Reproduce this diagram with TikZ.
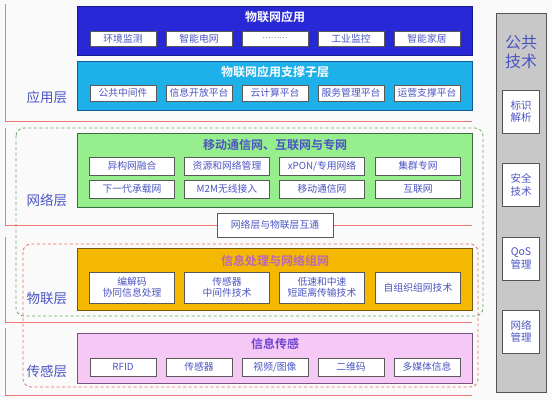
\documentclass[tikz,border=0pt]{standalone}
\usepackage{fontspec}
\newfontfamily\cjk{Noto Sans CJK SC}[BoldFont={Noto Sans CJK SC Bold}]

\definecolor{bgcol}{RGB}{250,250,250}
\definecolor{appblue}{RGB}{40,40,215}
\definecolor{appblueline}{RGB}{25,25,140}
\definecolor{supcyan}{RGB}{30,176,232}
\definecolor{supcyanline}{RGB}{20,90,150}
\definecolor{netgreen}{RGB}{150,238,140}
\definecolor{netgreenline}{RGB}{60,110,60}
\definecolor{iotorange}{RGB}{245,184,0}
\definecolor{iotorangeline}{RGB}{120,90,10}
\definecolor{senspink}{RGB}{246,200,246}
\definecolor{senspinkline}{RGB}{120,80,130}
\definecolor{commongray}{RGB}{200,200,200}
\definecolor{commongrayline}{RGB}{85,85,85}
\definecolor{labelblue}{RGB}{75,85,195}
\definecolor{bracketred}{RGB}{238,120,120}
\definecolor{dashgreen}{RGB}{110,165,110}
\definecolor{dashred}{RGB}{232,110,110}
\definecolor{mauve}{RGB}{185,105,185}

\tikzset{%
  % Specifications for style of nodes:
     layerbox/.style = {rectangle, anchor=north west, line width=1.3pt, minimum width=395pt, inner sep=0pt},
      itembox/.style = {rectangle, draw=black!65, fill=white, line width=1pt, inner sep=0pt, align=center,
                        text=labelblue, font=\cjk\fontsize{9.8}{11}\selectfont},
     titletext/.style = {font=\cjk\bfseries\fontsize{12}{13}\selectfont},
     layerlabel/.style = {text=labelblue, font=\cjk\fontsize{13.5}{15}\selectfont},
     sidebox/.style = {rectangle, draw=commongrayline, fill=white, line width=1pt, minimum width=37pt,
                       minimum height=43pt, inner sep=0pt, align=center, text=labelblue,
                       font=\cjk\fontsize{10.5}{12.5}\selectfont},
  % Specifications for style of lines:
     bracketline/.style = {bracketred, line width=0.8pt},
}

\begin{document}
\begin{tikzpicture}[x=1pt, y=-1pt]
    \useasboundingbox (0,0) rectangle (552,400);
    \fill[bgcol] (0,0) rectangle (552,400);

    % Draw dashed groups
    \draw[dashgreen, line width=0.8pt, dash pattern=on 3pt off 2.5pt, rounded corners=8pt] (16,128) rectangle (483,316);
    \draw[dashred, line width=0.8pt, dash pattern=on 3pt off 2.5pt, rounded corners=8pt] (23,244) rectangle (478,387);

    % Draw layer brackets
    \draw[bracketline] (5,4) -- (5,121) -- (472,121);
    \draw[bracketline] (5,128) -- (5,225) -- (472,225);
    \draw[bracketline] (5,237) -- (5,322) -- (472,322);
    \draw[bracketline] (5,328) -- (5,395) -- (472,395);

    % Draw layer labels
    \node (applabel)  [layerlabel] at (47,97)  {应用层};
    \node (netlabel)  [layerlabel] at (47,200) {网络层};
    \node (iotlabel)  [layerlabel] at (47,298) {物联层};
    \node (senslabel) [layerlabel] at (47,371) {传感层};

    % Draw application layer
    \node (app)  [layerbox, draw=appblueline, fill=appblue, minimum height=49pt] at (77,6) {};
    \node (apptitle) [titletext, text=white] at (275,17) {物联网应用};
    \node (env)   [itembox, minimum width=66pt, minimum height=15pt] at (123,38.5) {环境监测};
    \node (grid)  [itembox, minimum width=66pt, minimum height=15pt] at (199,38.5) {智能电网};
    \node (more)  [itembox, minimum width=66pt, minimum height=15pt] at (275,38.5) {\textcolor{black!50}{\footnotesize\dots\dots\dots}};
    \node (ind)   [itembox, minimum width=66pt, minimum height=15pt] at (351,38.5) {工业监控};
    \node (home)  [itembox, minimum width=66pt, minimum height=15pt] at (427,38.5) {智能家居};

    \node (sup)  [layerbox, draw=supcyanline, fill=supcyan, minimum height=49pt] at (77,61) {};
    \node (suptitle) [titletext, text=white] at (275,72) {物联网应用支撑子层};
    \node (mid)   [itembox, minimum width=66pt, minimum height=16pt] at (123,93) {公共中间件};
    \node (open)  [itembox, minimum width=66pt, minimum height=16pt] at (199,93) {信息开放平台};
    \node (cloud) [itembox, minimum width=66pt, minimum height=16pt] at (275,93) {云计算平台};
    \node (serv)  [itembox, minimum width=66pt, minimum height=16pt] at (351,93) {服务管理平台};
    \node (ops)   [itembox, minimum width=66pt, minimum height=16pt] at (427,93) {运营支撑平台};

    % Draw network layer
    \node (net)  [layerbox, draw=netgreenline, fill=netgreen, minimum height=74pt] at (77,133) {};
    \node (nettitle) [titletext, text=labelblue] at (275,145) {移动通信网、互联网与专网};
    \node (hetero) [itembox, minimum width=85pt, minimum height=18pt] at (132,166) {异构网融合};
    \node (res)    [itembox, minimum width=85pt, minimum height=18pt] at (227,166) {资源和网络管理};
    \node (xpon)   [itembox, minimum width=85pt, minimum height=18pt] at (322,166) {xPON/专用网络};
    \node (trunk)  [itembox, minimum width=85pt, minimum height=18pt] at (418,166) {集群专网};
    \node (ngn)    [itembox, minimum width=85pt, minimum height=18pt] at (132,189) {下一代承载网};
    \node (mtom)   [itembox, minimum width=85pt, minimum height=18pt] at (227,189) {M2M无线接入};
    \node (mobile) [itembox, minimum width=85pt, minimum height=18pt] at (322,189) {移动通信网};
    \node (inet)   [itembox, minimum width=85pt, minimum height=18pt] at (418,189) {互联网};

    \node (link)   [itembox, minimum width=116pt, minimum height=24pt] at (275,225) {网络层与物联层互通};

    % Draw IoT layer
    \node (iot)  [layerbox, draw=iotorangeline, fill=iotorange, minimum height=62pt] at (77,248) {};
    \node (iottitle) [titletext, text=mauve] at (275,261) {信息处理与网络组网};
    \node (codec)  [itembox, minimum width=85pt, minimum height=31pt] at (132,287.5) {编解码\\协同信息处理};
    \node (smid)   [itembox, minimum width=85pt, minimum height=31pt] at (227,287.5) {传感器\\中间件技术};
    \node (short)  [itembox, minimum width=85pt, minimum height=31pt] at (322,287.5) {低速和中速\\短距离传输技术};
    \node (adhoc)  [itembox, minimum width=85pt, minimum height=31pt] at (418,287.5) {自组织组网技术};

    % Draw sensing layer
    \node (sens) [layerbox, draw=senspinkline, fill=senspink, minimum height=50pt] at (77,333) {};
    \node (senstitle) [titletext, text=labelblue!80!magenta] at (275,344) {信息传感};
    \node (rfid)   [itembox, minimum width=66pt, minimum height=18pt] at (123,367) {RFID};
    \node (sensor) [itembox, minimum width=66pt, minimum height=18pt] at (199,367) {传感器};
    \node (video)  [itembox, minimum width=66pt, minimum height=18pt] at (275,367) {视频/图像};
    \node (qr)     [itembox, minimum width=66pt, minimum height=18pt] at (351,367) {二维码};
    \node (media)  [itembox, minimum width=66pt, minimum height=18pt] at (427,367) {多媒体信息};

    % Draw common technology column
    \node (common) [rectangle, draw=commongrayline, fill=commongray, line width=1.3pt, anchor=north west,
                    minimum width=50pt, minimum height=379pt, inner sep=0pt] at (496,13) {};
    \node (commontitle) [text=labelblue, align=center, font=\cjk\fontsize{16}{19}\selectfont] at (521,52) {公共\\技术};
    \node (ident) [sidebox] at (521,111.5) {标识\\解析};
    \node (secu)  [sidebox] at (521,185)   {安全\\技术};
    \node (qos)   [sidebox] at (521,258.5) {QoS\\管理};
    \node (nman)  [sidebox] at (521,331.5) {网络\\管理};

\end{tikzpicture}
\end{document}
